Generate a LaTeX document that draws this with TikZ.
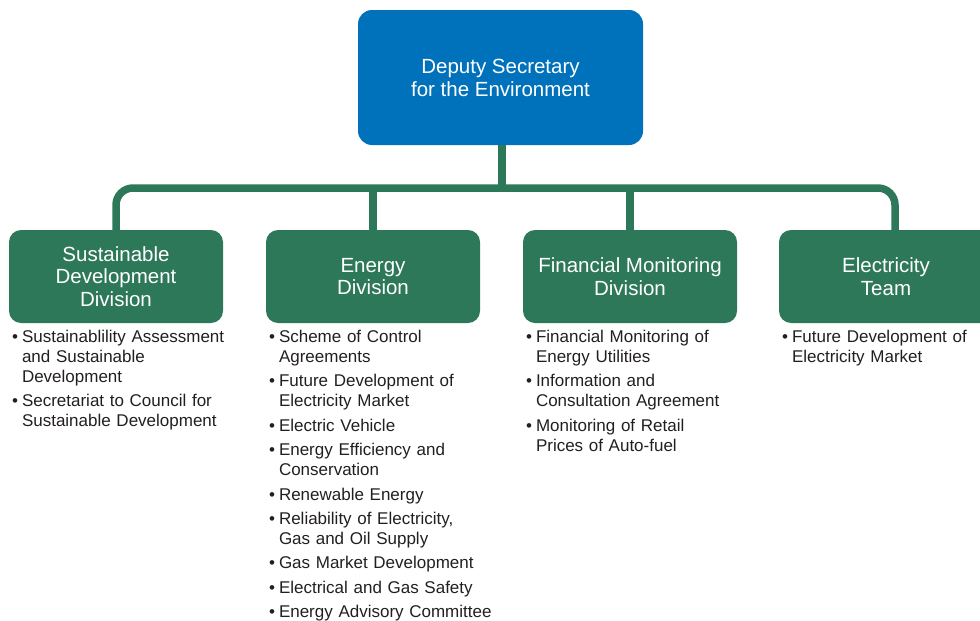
\documentclass[tikz,border=0pt]{standalone}
\usepackage{fontspec}
\setmainfont{Liberation Sans}
\usetikzlibrary{positioning}

\definecolor{deptblue}{HTML}{0072BB}
\definecolor{divgreen}{HTML}{2E785A}
\definecolor{bodytext}{HTML}{231F20}

% bullet list used under each division
\newenvironment{duties}{\begin{list}{\textbullet}{%
  \setlength{\leftmargin}{10pt}\setlength{\labelwidth}{6pt}%
  \setlength{\labelsep}{4pt}\setlength{\itemsep}{4.4pt}%
  \setlength{\topsep}{0pt}\setlength{\parsep}{0pt}%
  \setlength{\partopsep}{0pt}\setlength{\parskip}{0pt}}}{\end{list}}

\begin{document}
\begin{tikzpicture}[x=1pt, y=-1pt,
  head/.style={rectangle, rounded corners=14pt, fill=deptblue, text=white, minimum width=285pt, minimum height=135pt, align=center, font=\fontsize{20.5}{23}\selectfont},
  div/.style={rectangle, rounded corners=12pt, fill=divgreen, text=white, minimum width=214pt, minimum height=93pt, align=center, font=\fontsize{20.5}{22.5}\selectfont},
  tasks/.style={text width=230pt, inner sep=0pt, text=bodytext, font=\fontsize{17}{20}\selectfont},
  link/.style={draw=divgreen, line width=7.5pt}]
\clip (0,0) rectangle (980,621);

\node[head] (DSE) at (500.5,77.5) {Deputy Secretary\\for the Environment};

\node[div] (SDD) at (116,276.5) {Sustainable\\Development\\Division};
\node[div] (ED) at (373,276.5) {Energy\\Division};
\node[div] (FMD) at (630,276.5) {Financial Monitoring\\Division};
\node[div] (ET) at (886,276.5) {Electricity\\Team};

% tree lines
\coordinate (bar) at (502,188);
\draw[link, rounded corners=17pt] (SDD.north) |- (bar) -| ([xshift=9pt]ET.north);
\draw[link] (DSE.south -| bar) -- (bar);
\draw[link] (ED.north |- bar) -- (ED.north);
\draw[link] (FMD.north |- bar) -- (FMD.north);

% duties of each division
\node[tasks, below right=-1pt and 3pt of SDD.south west] (SDDlist) {\begin{duties}
  \item Sustainablility Assessment\\and Sustainable\\Development
  \item Secretariat to Council for\\Sustainable Development
\end{duties}};
\node[tasks, below right=-1pt and 3pt of ED.south west] (EDlist) {\begin{duties}
  \item Scheme of Control\\Agreements
  \item Future Development of\\Electricity Market
  \item Electric Vehicle
  \item Energy Efficiency and\\Conservation
  \item Renewable Energy
  \item Reliability of Electricity,\\Gas and Oil Supply
  \item Gas Market Development
  \item Electrical and Gas Safety
  \item Energy Advisory Committee
\end{duties}};
\node[tasks, below right=-1pt and 3pt of FMD.south west] (FMDlist) {\begin{duties}
  \item Financial Monitoring of\\Energy Utilities
  \item Information and\\Consultation Agreement
  \item Monitoring of Retail\\Prices of Auto-fuel
\end{duties}};
\node[tasks, below right=-1pt and 3pt of ET.south west] (ETlist) {\begin{duties}
  \item Future Development of\\Electricity Market
\end{duties}};
\end{tikzpicture}
\end{document}
